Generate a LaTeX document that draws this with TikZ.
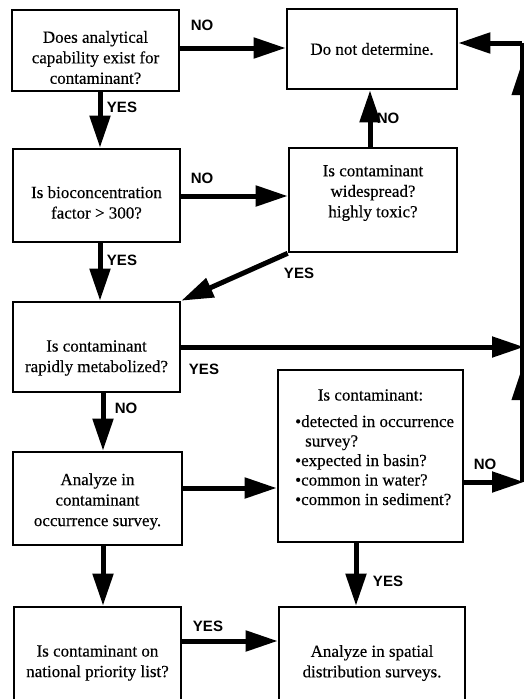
\documentclass[tikz,border=0pt]{standalone}
\usepackage{fontspec}
\setmainfont[FakeBold=0.3]{Liberation Serif}
\newfontfamily\lblfont{Liberation Sans}
\usetikzlibrary{arrows.meta,calc}
\begin{document}
\begin{tikzpicture}[x=1pt,y=-1pt,
  box/.style={draw, line width=2.6pt, inner sep=0pt},
  arr/.style={line width=5pt, -{Triangle[length=32pt,width=20pt]}},
  head/.style={line width=4pt, -{Triangle[length=32pt,width=20pt]}},
  lbl/.style={font=\lblfont\bfseries\fontsize{15}{15}\selectfont, inner sep=0pt},
  txt/.style={inner sep=0pt, align=center, font=\fontsize{17}{20.5}\selectfont},
  ltxt/.style={inner sep=0pt, align=left, font=\fontsize{17}{19.5}\selectfont}]
\useasboundingbox (0,0) rectangle (524,699);
\clip (0,0) rectangle (524,699);

% boxes
\node[box, minimum width=167pt, minimum height=81pt] (b1) at (95.5,50.5) {};
\node[box, minimum width=170pt, minimum height=80pt] (b2) at (372,49) {};
\node[box, minimum width=167pt, minimum height=93pt] (b4) at (96.5,195.5) {};
\node[box, minimum width=168pt, minimum height=104pt] (b3) at (373,200) {};
\node[box, minimum width=167pt, minimum height=90pt] (b5) at (96.5,347) {};
\node[box, minimum width=169pt, minimum height=93pt] (b6) at (97.5,498.5) {};
\node[box, minimum width=185pt, minimum height=172pt] (b7) at (370.5,456) {};
\node[box, minimum width=167pt, minimum height=108pt] (b8) at (97.5,661) {};
\node[box, minimum width=186pt, minimum height=108pt] (b9) at (372,661) {};

% box texts
\node[txt] (t1) at ($(b1)+(0,7)$) {Does analytical\\capability exist for\\contaminant?};
\node[txt] (t2) at ($(b2)+(0,0)$) {Do not determine.};
\node[txt] (t4) at ($(b4)+(0,7)$) {Is bioconcentration\\factor > 300?};
\node[txt] (t3) at ($(b3)+(0,-7)$) {Is contaminant\\widespread?\\highly toxic?};
\node[txt] (t5) at ($(b5)+(0,11)$) {Is contaminant\\rapidly metabolized?};
\node[txt] (t6) at ($(b6)+(0,3)$) {Analyze in\\contaminant\\occurrence survey.};
\node[txt] (t7a) at (370.5,395) {Is contaminant:};
\node[ltxt, anchor=north west] (t7b) at (295,415)
  {•detected in occurrence\\\hspace*{10pt}survey?\\•expected in basin?\\•common in water?\\•common in sediment?};
\node[txt] (t8) at ($(b8)+(0,2)$) {Is contaminant on\\national priority list?};
\node[txt] (t9) at ($(b9)+(0,2)$) {Analyze in spatial\\distribution surveys.};

% helper lines
\coordinate (x100) at (100,0);
\coordinate (x103) at (103,0);
\coordinate (x370) at (370,0);
\coordinate (x356) at (356,0);
\coordinate (y48) at (0,48);
\coordinate (y196) at (0,196);
\coordinate (y347) at (0,347);
\coordinate (y488) at (0,488);
\coordinate (y482) at (0,482);
\coordinate (y641) at (0,641);
\coordinate (y43) at (0,43);
\coordinate (rtop) at (522,43);
\coordinate (rbot) at (522,482);
\coordinate (rmid) at (524,347);
\coordinate (rlow) at (524,482);
\coordinate (h1a) at (522,100);
\coordinate (h1b) at (522,63);
\coordinate (h2a) at (522,402);
\coordinate (h2b) at (522,368);

% connectors
\draw[arr] (b1.east |- y48) -- (b2.west |- y48);
\draw[arr] (b1.south -| x100) -- (b4.north -| x100);
\draw[arr] (b4.east |- y196) -- (b3.west |- y196);
\draw[arr] (b3.north -| x370) -- (b2.south -| x370);
\draw[arr] (b4.south -| x100) -- (b5.north -| x100);
\draw[arr] (b3.south west) -- (b5.north east);
\draw[arr] (b5.east |- y347) -- (rmid);
\draw[arr] (b5.south -| x103) -- (b6.north -| x103);
\draw[arr] (b6.east |- y488) -- (b7.west |- y488);
\draw[arr] (b7.east |- y482) -- (rlow);
\draw[arr] (b7.south -| x356) -- (b9.north -| x356);
\draw[arr] (b6.south -| x103) -- (b8.north -| x103);
\draw[arr] (b8.east |- y641) -- (b9.west |- y641);
\draw[line width=4pt] (rbot) -- (rtop);
\draw[arr] (rtop) -- (b2.east |- y43);
\draw[head] (h1a) -- (h1b);
\draw[head] (h2a) -- (h2b);

% labels
\node[lbl] (l1) at (202,25) {NO};
\node[lbl] (l2) at (122,107) {YES};
\node[lbl] (l3) at (202,178) {NO};
\node[lbl] (l4) at (388,118) {NO};
\node[lbl] (l5) at (122,260) {YES};
\node[lbl] (l6) at (299,273) {YES};
\node[lbl] (l7) at (204,369) {YES};
\node[lbl] (l8) at (126,408) {NO};
\node[lbl] (l9) at (485,464) {NO};
\node[lbl] (l10) at (388,581) {YES};
\node[lbl] (l11) at (208,626) {YES};
\end{tikzpicture}
\end{document}
